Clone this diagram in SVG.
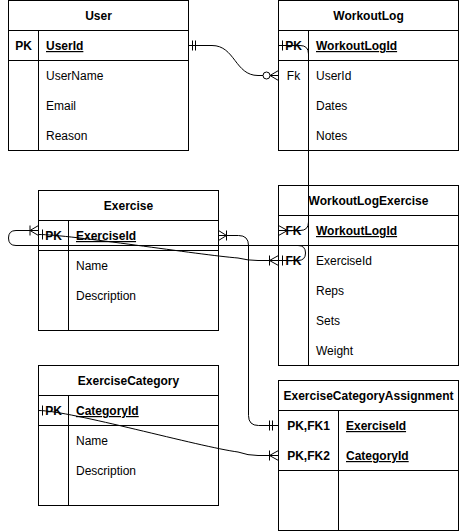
<svg xmlns="http://www.w3.org/2000/svg" width="459" height="532" viewBox="0 0 459 532">
<style>
.tb{fill:#fff;stroke:#000;stroke-width:1}
.ln{stroke:#000;stroke-width:1;fill:none}
text{font-family:"Liberation Sans",Arial,Helvetica,sans-serif;font-size:12px;fill:#000}
.h{font-weight:bold;text-anchor:middle}
.k{font-weight:bold;text-anchor:middle}
.kn{text-anchor:middle}
.u{font-weight:bold;text-decoration:underline}
.c{fill:none;stroke:#000;stroke-width:1}
.w{fill:#fff;stroke:#000;stroke-width:1}
</style>
<rect width="459" height="532" fill="#fff"/>
<g id="User">
<rect class="tb" x="8.5" y="0.5" width="180" height="150"/>
<path class="ln" d="M8.5 30.5H188.5M8.5 60.5H188.5M38.5 30.5V150.5"/>
<text class="h" x="98.5" y="20">User</text>
<text class="k" x="23.5" y="50">PK</text>
<text class="u" x="46" y="50">UserId</text>
<text x="46" y="80">UserName</text>
<text x="46" y="110">Email</text>
<text x="46" y="140">Reason</text>
</g>
<g id="WorkoutLog">
<rect class="tb" x="278.5" y="0.5" width="180" height="150"/>
<path class="ln" d="M278.5 30.5H458.5M278.5 60.5H458.5M308.5 30.5V150.5"/>
<text class="h" x="368.5" y="20">WorkoutLog</text>
<text class="k" x="293.5" y="50">PK</text>
<text class="u" x="316" y="50">WorkoutLogId</text>
<text class="kn" x="293.5" y="80">Fk</text>
<text x="316" y="80">UserId</text>
<text x="316" y="110">Dates</text>
<text x="316" y="140">Notes</text>
</g>
<g id="Exercise">
<rect class="tb" x="38.5" y="190.5" width="180" height="140"/>
<path class="ln" d="M38.5 220.5H218.5M38.5 250.5H218.5M68.5 220.5V330.5"/>
<text class="h" x="128.5" y="210">Exercise</text>
<text class="k" x="53.5" y="240">PK</text>
<text class="u" x="76" y="240">ExerciseId</text>
<text x="76" y="270">Name</text>
<text x="76" y="300">Description</text>
</g>
<g id="WorkoutLogExercise">
<rect class="tb" x="278.5" y="185.5" width="180" height="180"/>
<path class="ln" d="M278.5 215.5H458.5M278.5 245.5H458.5M308.5 215.5V365.5"/>
<text class="h" x="368.5" y="205">WorkoutLogExercise</text>
<text class="k" x="293.5" y="235">FK</text>
<text class="u" x="316" y="235">WorkoutLogId</text>
<text class="k" x="293.5" y="265">FK</text>
<text x="316" y="265">ExerciseId</text>
<text x="316" y="295">Reps</text>
<text x="316" y="325">Sets</text>
<text x="316" y="355">Weight</text>
</g>
<g id="ExerciseCategory">
<rect class="tb" x="38.5" y="365.5" width="180" height="140"/>
<path class="ln" d="M38.5 395.5H218.5M38.5 425.5H218.5M68.5 395.5V505.5"/>
<text class="h" x="128.5" y="385">ExerciseCategory</text>
<text class="k" x="53.5" y="415">PK</text>
<text class="u" x="76" y="415">CategoryId</text>
<text x="76" y="445">Name</text>
<text x="76" y="475">Description</text>
</g>
<g id="ExerciseCategoryAssignment">
<rect class="tb" x="278.5" y="380.5" width="180" height="150"/>
<path class="ln" d="M278.5 410.5H458.5M278.5 470.5H458.5M338.5 410.5V530.5"/>
<text class="h" x="368.5" y="400">ExerciseCategoryAssignment</text>
<text class="k" x="308.5" y="430">PK,FK1</text>
<text class="u" x="346" y="430">ExerciseId</text>
<text class="k" x="308.5" y="460">PK,FK2</text>
<text class="u" x="346" y="460">CategoryId</text>
</g>
<g id="connectors">
<path class="c" d="M188.5 45.5H212C235 45.5 235 75.5 258 75.5H278.5"/>
<path class="c" d="M192.5 40.5V50.5M195.5 40.5V50.5"/>
<path class="c" d="M270 75.5L278.5 70.5M270 75.5L278.5 80.5"/>
<circle class="w" cx="266.5" cy="75.5" r="3.5"/>
<path class="c" d="M278.5 45.5H300Q308.5 45.5 308.5 54V222Q308.5 230.5 300 230.5H278.5"/>
<path class="c" d="M282.5 40.5V50.5"/>
<path class="c" d="M287.5 230.5L278.5 225.5M287.5 230.5L278.5 235.5"/>
<path class="c" d="M278.5 260.5H298Q305.5 260.5 305.5 253Q305.5 245.5 298 245.5H16Q8.5 245.5 8.5 238Q8.5 230.5 16 230.5H38.5"/>
<path class="c" d="M282.5 255.5V265.5"/>
<path class="c" d="M30 230.5L38.5 225.5M30 230.5L38.5 235.5M30 225.5V235.5"/>
<path class="c" d="M38.5 234.5C70 234.5 200 255 238 258Q248 260.5 258 260.5H278.5"/>
<path class="c" d="M42.5 229.5V239.5"/>
<path class="c" d="M269.5 260.5L278.5 255.5M269.5 260.5L278.5 265.5M269.5 255.5V265.5"/>
<path class="c" d="M218.5 235.5H238.5Q248.5 235.5 248.5 245.5V415.5Q248.5 425.5 258.5 425.5H278.5"/>
<path class="c" d="M226.5 235.5L218.5 230.5M226.5 235.5L218.5 240.5M226.5 230.5V240.5"/>
<path class="c" d="M269.5 420.5V430.5M272.5 420.5V430.5"/>
<path class="c" d="M38.5 410.5C70 410.5 200 447 238 452Q248 455.5 258 455.5H278.5"/>
<path class="c" d="M42.5 405.5V415.5"/>
<path class="c" d="M269.5 455.5L278.5 450.5M269.5 455.5L278.5 460.5M269.5 450.5V460.5"/>
</g>
</svg>
